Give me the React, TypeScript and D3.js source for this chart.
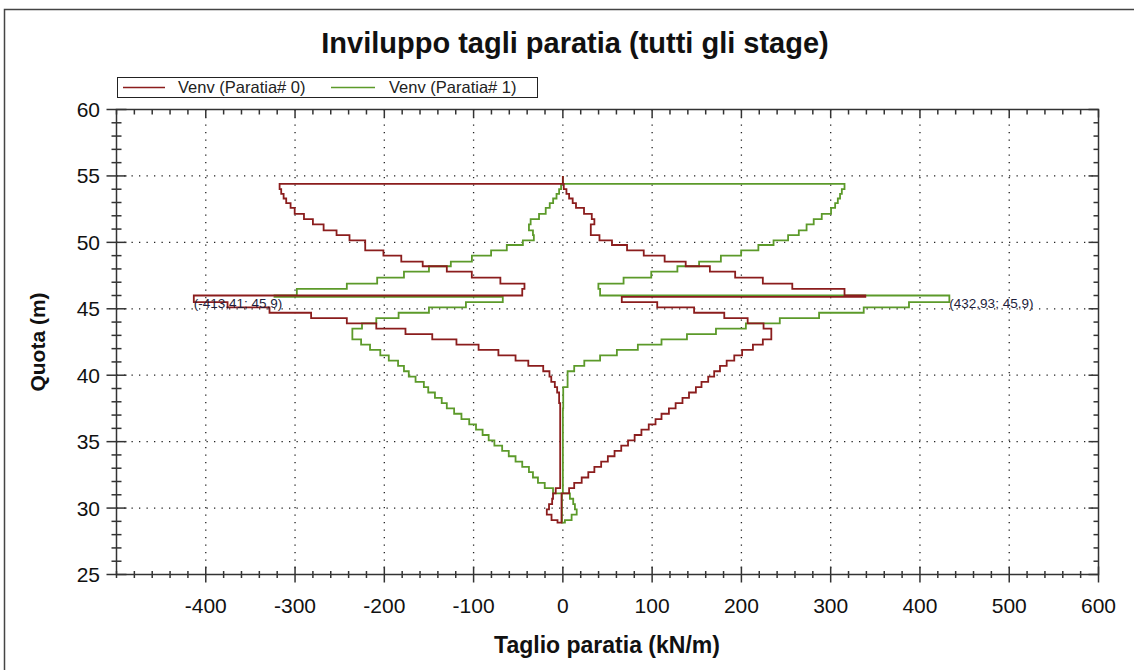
import * as d3 from "d3";

// nodes of the wall (quota, m) from top to bottom; element i lies between quota[i] and quota[i + 1]
const quota = [
  55.0, 54.4, 54.0, 53.65, 53.3, 52.95, 52.6, 52.15, 51.75, 51.35, 50.9, 50.55, 50.15, 49.8, 49.4, 49.0,
  48.55, 48.2, 47.8, 47.35, 46.9, 46.5, 46.0, 45.9, 45.5, 45.1, 44.7, 44.3, 43.9, 43.5, 43.1, 42.7,
  42.3, 41.9, 41.5, 41.1, 40.7, 40.3, 39.9, 39.5, 39.1, 38.7, 38.3, 37.9, 37.5, 37.1, 36.7, 36.3,
  35.9, 35.5, 35.1, 34.7, 34.3, 33.9, 33.5, 33.1, 32.7, 32.3, 31.9, 31.5, 31.1, 30.7, 30.3, 29.9,
  29.5, 29.1, 28.9,
];

// shear envelopes per element (kN/m)
const vMinParatia0 = [
  0, -317.3, -315.5, -312.8, -309.9, -305, -300.4, -290, -280, -268, -253.5, -239, -221.4, -221.4, -201, -181,
  -157, -130, -102, -70, -43, -45.5, -413.41, -413.41, -375.6, -328.6, -282, -242, -209, -176.3, -146.3, -119.2,
  -94.4, -72.2, -53, -38.7, -22, -15, -13, -9, -6.4, -4.2, -4.2, -3, -3, -3, -3, -3,
  -3, -3, -3, -3, -3, -3, -3, -3, -3, -3, -3, -8, -11, -12, -15.5, -18,
  -12.7, -6,
];
const vMaxParatia0 = [
  0, 1, 4, 7, 11, 14.7, 23.7, 32.4, 35.3, 31.3, 31.3, 41, 55, 71.9, 90.6, 114,
  137.6, 164.7, 193, 224, 257, 315.5, 338.8, 66, 105.7, 147, 180.8, 207, 224.8, 233.5, 233.5, 224,
  212.9, 200.8, 192, 183.5, 176, 169.5, 162.8, 155.3, 149, 141.3, 134, 126.3, 118.8, 110.5, 103.8, 96.2,
  88, 80.4, 73, 65.4, 57.9, 50.4, 42.9, 35.3, 28.5, 21.1, 12.7, 7, -1.5, -1.5, -1.5, -1.5,
  -1.5, -1.5,
];
const vMinParatia1 = [
  0, -2, -4.2, -7.1, -10.9, -14.7, -19.2, -26.7, -36.1, -38, -33.5, -32.5, -44.8, -62.8, -80.4, -101.9,
  -125.5, -150, -178, -208, -242, -298, -323, -67.3, -108.6, -150, -184, -209, -225, -235.8, -235.8, -226,
  -216, -204.5, -195, -184.6, -178, -172.6, -165, -155.7, -150.8, -143.3, -135.7, -130, -121.8, -113.6, -104.9, -97.3,
  -89.9, -83.1, -76.7, -68, -60.6, -53, -45.5, -38, -33.5, -27.9, -20.3, -11, -1, -1, -1, -1,
  -1, -1,
];
const vMaxParatia1 = [
  0, 315.5, 312.5, 310.5, 308, 305, 300.4, 290, 281, 273, 264.3, 252.3, 236, 219, 199.7, 177,
  152.6, 128.3, 99, 68, 39.8, 41.7, 432.93, 432.93, 387.7, 337, 287, 243, 205, 171.5, 139, 110.5,
  84, 60.5, 41.7, 24, 12.7, 5.3, 5.3, 5.3, 0.4, 0.4, 0.4, 0.4, 0, 0, 0, 0,
  0, 0, 0, 0, 0, 0, 0, 0, 0, 0, 0, 0, 7.9, 11.6, 13.5, 15.5,
  9.8, 2.3,
];

const seriesNames = ["Venv (Paratia# 0)", "Venv (Paratia# 1)"];
const seriesColors = ["#8b1d1d", "#5c9a2a"];

const xTicks = [-400, -300, -200, -100, 0, 100, 200, 300, 400, 500, 600];
const yTicks = [25, 30, 35, 40, 45, 50, 55, 60];

const peakV = [-413.41, 432.93];
const peakZ = [45.9, 45.9];
const peakLabels = ["(-413,41; 45,9)", "(432,93; 45,9)"];

const FONT = "'Liberation Sans', Arial, sans-serif";

function envelopeLoop(vMin: number[], vMax: number[]): [number, number][] {
  const pts: [number, number][] = [];
  for (let i = 0; i < vMin.length; i++) {
    pts.push([vMin[i], quota[i]], [vMin[i], quota[i + 1]]);
  }
  for (let i = vMax.length - 1; i >= 0; i--) {
    pts.push([vMax[i], quota[i + 1]], [vMax[i], quota[i]]);
  }
  return pts;
}

export default function App() {
  const left = 116.5, right = 1098.5, top = 109.5, bottom = 574.5;
  const x = d3.scaleLinear().domain([-500, 600]).range([left, right]);
  const y = d3.scaleLinear().domain([25, 60]).range([bottom, top]);

  const line = d3.line<[number, number]>()
    .x(d => x(d[0]))
    .y(d => y(d[1]));

  const loops = [
    envelopeLoop(vMinParatia0, vMaxParatia0),
    envelopeLoop(vMinParatia1, vMaxParatia1),
  ];

  const xMinor = d3.range(-500, 601, 20);
  const yMinor = d3.range(25, 61, 1);
  const axisColor = "#333";

  return (
    <svg width={1134} height={670} style={{ position: "absolute", left: 0, top: 0, background: "#fff" }}>
      {/* outer frame */}
      <path d="M4.5,670 L4.5,9.5 L1134,9.5" fill="none" stroke="#444" strokeWidth={1.5} />

      <text x={575} y={53} textAnchor="middle" fontFamily={FONT} fontWeight="bold" fontSize={29} fill="#111">
        Inviluppo tagli paratia (tutti gli stage)
      </text>

      {/* legend */}
      <rect x={117.5} y={77.5} width={420} height={20} fill="#fff" stroke="#222" strokeWidth={1} />
      {seriesNames.map((name, i) => (
        <g key={name}>
          <line x1={i === 0 ? 123 : 331} x2={i === 0 ? 165 : 375} y1={87.5} y2={87.5} stroke={seriesColors[i]} strokeWidth={1.5} />
          <text x={i === 0 ? 178 : 389} y={93} fontFamily={FONT} fontSize={16.5} fill="#222">{name}</text>
        </g>
      ))}

      {/* dotted grid */}
      {xTicks.filter(v => v < 600).map(v => (
        <line key={"gx" + v} x1={x(v)} x2={x(v)} y1={top} y2={bottom} stroke="#222" strokeWidth={1.3} strokeDasharray="1.3,6.2" />
      ))}
      {yTicks.filter(v => v > 25 && v < 60).map(v => (
        <line key={"gy" + v} x1={left} x2={right} y1={y(v)} y2={y(v)} stroke="#222" strokeWidth={1.3} strokeDasharray="1.3,6.2" />
      ))}

      {/* envelopes: Paratia# 1 below, Paratia# 0 on top */}
      {[1, 0].map(i => (
        <path key={"s" + i} d={line(loops[i]) ?? ""} fill="none" stroke={seriesColors[i]} strokeWidth={1.8} strokeLinejoin="miter" />
      ))}

      {peakLabels.map((lbl, i) => (
        <text key={lbl} x={x(peakV[i])} y={y(peakZ[i]) + 11} fontFamily={FONT} fontSize={13.5} fill="#1e1e3c">{lbl}</text>
      ))}

      {/* plot frame */}
      <rect x={left} y={top} width={right - left} height={bottom - top} fill="none" stroke={axisColor} strokeWidth={1.5} />

      {/* x ticks */}
      {xMinor.map(v => {
        const major = xTicks.includes(v);
        return (
          <g key={"tx" + v}>
            <line x1={x(v)} x2={x(v)} y1={bottom - (major ? 8 : 3.5)} y2={bottom + (major ? 8 : 3.5)} stroke={axisColor} strokeWidth={1.5} />
            <line x1={x(v)} x2={x(v)} y1={top} y2={top + (major ? 8 : 5)} stroke={axisColor} strokeWidth={1.5} />
          </g>
        );
      })}
      {xTicks.map(v => (
        <text key={"lx" + v} x={x(v)} y={613} textAnchor="middle" fontFamily={FONT} fontSize={21} fill="#111">{v}</text>
      ))}

      {/* y ticks */}
      {yMinor.map(v => {
        const major = yTicks.includes(v);
        return (
          <g key={"ty" + v}>
            <line x1={left - (major ? 10 : 5)} x2={left + (major ? 10 : 5)} y1={y(v)} y2={y(v)} stroke={axisColor} strokeWidth={1.5} />
            <line x1={right - (major ? 10 : 5)} x2={right} y1={y(v)} y2={y(v)} stroke={axisColor} strokeWidth={1.5} />
          </g>
        );
      })}
      {yTicks.map(v => (
        <text key={"ly" + v} x={100} y={y(v) + 7.5} textAnchor="end" fontFamily={FONT} fontSize={21} fill="#111">{v}</text>
      ))}

      <text x={607} y={653} textAnchor="middle" fontFamily={FONT} fontWeight="bold" fontSize={23} fill="#111">
        Taglio paratia (kN/m)
      </text>
      <text transform={`translate(45, ${(top + bottom) / 2}) rotate(-90)`} textAnchor="middle" fontFamily={FONT} fontWeight="bold" fontSize={21} fill="#111">
        Quota (m)
      </text>
    </svg>
  );
}
